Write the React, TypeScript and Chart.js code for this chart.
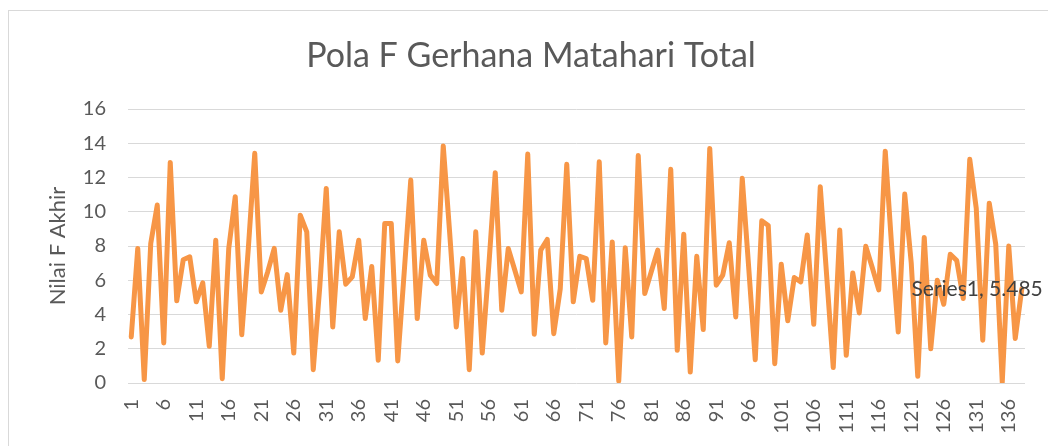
import React, { useEffect, useRef } from "react";
import { Chart, registerables } from "chart.js";

Chart.register(...registerables);

const chartTitle = "Pola F Gerhana Matahari Total";
const yAxisTitle = "Nilai F Akhir";
const seriesName = "Series1";

const fValues: number[] = [
  2.69, 7.86, 0.2, 8.15, 10.39, 2.34, 12.88, 4.8, 7.2, 7.37,
  4.74, 5.85, 2.14, 8.34, 0.25, 7.86, 10.88, 2.82, 7.8, 13.41,
  5.32, 6.5, 7.86, 4.25, 6.33, 1.75, 9.8, 8.83, 0.78, 5.6,
  11.36, 3.27, 8.83, 5.77, 6.2, 8.34, 3.76, 6.8, 1.33, 9.32,
  9.32, 1.29, 6.5, 11.85, 3.76, 8.34, 6.3, 5.81, 13.84, 8.7,
  3.27, 7.27, 0.78, 8.83, 1.75, 6.8, 12.28, 4.25, 7.86, 6.6,
  5.32, 13.37, 2.85, 7.76, 8.38, 2.88, 5.5, 12.77, 4.74, 7.4,
  7.27, 4.83, 12.92, 2.34, 8.24, 0.12, 7.9, 2.69, 13.28, 5.22,
  6.5, 7.76, 4.35, 12.48, 1.91, 8.69, 0.64, 7.4, 3.12, 13.7,
  5.71, 6.3, 8.19, 3.86, 11.95, 6.7, 1.36, 9.47, 9.2, 1.13,
  6.94, 3.63, 6.16, 5.91, 8.64, 3.43, 11.46, 6.2, 0.9, 8.93,
  1.62, 6.43, 4.09, 7.99, 6.74, 5.44, 13.54, 7.9, 2.98, 11.03,
  7.0, 0.39, 8.5, 2.0, 6.0, 4.6, 7.52, 7.15, 4.93, 13.06,
  10.2, 2.5, 10.5, 8.1, 0.05, 8.0, 2.6, 5.485,
];

const categories: string[] = fValues.map((_, i) => String(i + 1));
const yTicks: number[] = [0, 2, 4, 6, 8, 10, 12, 14, 16];
const labelIndex = fValues.length - 1;
const labelText = `${seriesName}, ${fValues[labelIndex]}`;

const FONT = "Lato, 'Open Sans', sans-serif";
const TEXT = "#595959";

export default function App() {
  const ref = useRef<HTMLCanvasElement | null>(null);

  useEffect(() => {
    if (!ref.current) return;
    const decor = {
      id: "decor",
      beforeDraw(chart: any) {
        const ctx = chart.ctx;
        ctx.save();
        ctx.fillStyle = "#ffffff";
        ctx.fillRect(0, 0, chart.width, chart.height);
        ctx.strokeStyle = "#d9d9d9";
        ctx.lineWidth = 1;
        ctx.strokeRect(8.5, 10.5, 1200, 600);
        ctx.fillStyle = TEXT;
        ctx.font = `34px ${FONT}`;
        ctx.textAlign = "center";
        ctx.textBaseline = "middle";
        ctx.fillText(chartTitle, 531, 56);
        ctx.restore();
      },
      afterDatasetsDraw(chart: any) {
        const meta = chart.getDatasetMeta(0);
        const pt = meta.data[labelIndex];
        if (!pt) return;
        const ctx = chart.ctx;
        ctx.save();
        ctx.fillStyle = "#404040";
        ctx.font = `21px ${FONT}`;
        ctx.textAlign = "right";
        ctx.textBaseline = "middle";
        ctx.fillText(labelText, pt.x + 21, pt.y);
        ctx.restore();
      },
    };

    const chart = new Chart(ref.current, {
      type: "line",
      data: {
        labels: categories,
        datasets: [
          {
            label: seriesName,
            data: fValues,
            borderColor: "#F79646",
            backgroundColor: "#F79646",
            borderWidth: 5,
            borderJoinStyle: "round",
            borderCapStyle: "round",
            pointRadius: 0,
            tension: 0,
            fill: false,
          },
        ],
      },
      options: {
        responsive: false,
        animation: false,
        layout: { padding: { left: 45, right: 23, top: 109, bottom: 0 } },
        plugins: {
          legend: { display: false },
          tooltip: { enabled: false },
          title: { display: false },
        },
        scales: {
          x: {
            type: "category",
            offset: true,
            grid: { display: false, drawTicks: false },
            border: { display: false },
            ticks: {
              autoSkip: false,
              minRotation: 90,
              maxRotation: 90,
              padding: 16,
              color: TEXT,
              font: { family: FONT, size: 20 },
              callback: (_v: any, i: number) => (i % 5 === 0 ? categories[i] : ""),
            },
            afterFit: (s: any) => {
              s.height = 63;
              s.paddingLeft = 0;
              s.paddingRight = 0;
            },
          },
          y: {
            min: 0,
            max: 16,
            afterBuildTicks: (s: any) => {
              s.ticks = yTicks.map((v) => ({ value: v }));
            },
            grid: { color: "#d9d9d9", lineWidth: 1, drawTicks: false },
            border: { display: false },
            ticks: {
              padding: 22,
              color: TEXT,
              font: { family: FONT, size: 20 },
            },
            title: {
              display: true,
              text: yAxisTitle,
              color: TEXT,
              font: { family: FONT, size: 22 },
              padding: 0,
            },
            afterFit: (s: any) => {
              s.width = 83;
              s.paddingTop = 0;
              s.paddingBottom = 0;
            },
          },
        },
      },
      plugins: [decor],
    });
    return () => chart.destroy();
  }, []);

  return (
    <div style={{ position: "fixed", left: 0, top: 0, width: 1048, height: 446 }}>
      <canvas ref={ref} width={1048} height={446} style={{ display: "block" }} />
    </div>
  );
}
